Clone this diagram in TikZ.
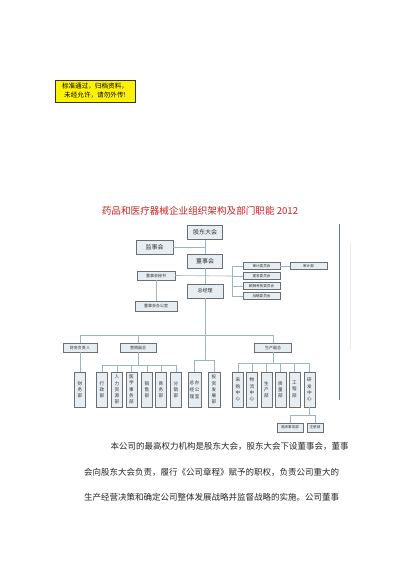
\documentclass[tikz,border=0pt]{standalone}
\usepackage{fontspec}
\newfontfamily\cjk{Noto Sans CJK SC}
\definecolor{boxfill}{HTML}{E8EDF1}
\definecolor{boxline}{HTML}{6A6F74}
\definecolor{conn}{HTML}{9DB4C4}
\definecolor{titlered}{HTML}{D02020}
\definecolor{frameline}{HTML}{5E7C8C}
\tikzset{
  orgbox/.style={draw=boxline, fill=boxfill, line width=0.5pt, inner sep=0pt, align=center, text=black!80},
  bigbox/.style={orgbox, minimum width=35pt, minimum height=14pt, font=\cjk\fontsize{6}{7}\selectfont},
  smallbox/.style={orgbox, minimum width=37pt, minimum height=7pt, font=\cjk\fontsize{3.6}{4}\selectfont},
  midbox/.style={orgbox, minimum width=36pt, minimum height=9pt, font=\cjk\fontsize{4}{5}\selectfont},
  vbox/.style={orgbox, minimum width=11pt, minimum height=35pt, font=\cjk\fontsize{4.6}{6.2}\selectfont},
  link/.style={draw=conn, line width=0.6pt},
  bodytext/.style={anchor=west, inner sep=0pt, font=\cjk\fontsize{8.5}{10}\selectfont, text=black!85}
}
\begin{document}
\begin{tikzpicture}[x=1pt,y=-1pt]
\useasboundingbox (0,0) rectangle (400,566);
\fill[white] (0,0) rectangle (400,566);
% yellow notice
\node[draw=black!80, fill=yellow, line width=0.5pt, minimum width=80pt, minimum height=22pt, inner sep=0pt, align=center, font=\cjk\fontsize{6.6}{9}\selectfont] (note) at (95,91) {标准通过，归档资料，\\未经允许，请勿外传!};
% title
\node[text=titlered, font=\cjk\fontsize{9.6}{11}\selectfont, inner sep=0pt] (title) at (200,211) {药品和医疗器械企业组织架构及部门职能 2012};
% top levels
\node[bigbox] (gd) at (205,232.5) {股东大会};
\node[bigbox, minimum width=37pt] (js) at (154.5,247) {监事会};
\node[bigbox] (dsh) at (205,261) {董事会};
\node[midbox, minimum width=38pt] (ms) at (156,275.5) {董事会秘书};
\node[midbox, minimum width=42pt, minimum height=10pt] (bgs) at (156,306) {董事会办公室};
\node[bigbox, minimum width=36pt, font=\cjk\fontsize{5}{6}\selectfont] (zjl) at (205,291) {总经理};
% committees
\node[smallbox] (c1) at (261.5,266) {审计委员会};
\node[smallbox] (c2) at (261.5,276) {提名委员会};
\node[smallbox] (c3) at (261.5,286) {薪酬考核委员会};
\node[smallbox] (c4) at (261.5,296) {战略委员会};
\node[smallbox] (sj) at (308.5,266) {审计部};
% vice presidents
\node[midbox, minimum width=34pt] (vp1) at (80,347.5) {财务负责人};
\node[midbox] (vp2) at (138,347.5) {营销副总};
\node[midbox, minimum width=37pt] (vp3) at (273,347.5) {生产副总};
% departments
\node[vbox] (cw) at (80,389.5) {财\\务\\部};
\node[vbox] (d1) at (102,389.5) {行\\政\\部};
\node[vbox] (d2) at (117,389.5) {人\\力\\资\\源\\部};
\node[vbox] (d3) at (131.5,389.5) {医\\学\\事\\务\\部};
\node[vbox] (d4) at (147,389.5) {销\\售\\部};
\node[vbox] (d5) at (161,389.5) {商\\务\\部};
\node[vbox] (d6) at (176,389.5) {分\\销\\部};
\node[vbox, minimum width=13pt] (g1) at (194.5,389.5) {\shortstack{总\\经\\理}\hspace{0.6pt}\shortstack{办\\公\\室}};
\node[vbox, minimum width=12pt] (g2) at (214,389.5) {投\\资\\发\\展\\部};
\node[vbox] (p1) at (238,389.5) {采\\购\\中\\心};
\node[vbox] (p2) at (252,389.5) {物\\流\\中\\心};
\node[vbox] (p3) at (266.5,389.5) {生\\产\\部};
\node[vbox] (p4) at (280.5,389.5) {质\\量\\部};
\node[vbox] (p5) at (294.5,389.5) {工\\程\\部};
\node[vbox] (p6) at (309.5,389.5) {研\\发\\中\\心};
\node[midbox, minimum width=26pt, font=\cjk\fontsize{3.6}{4}\selectfont] (s1) at (290,427.5) {临床事务部};
\node[midbox, minimum width=16pt, font=\cjk\fontsize{3.6}{4}\selectfont] (s2) at (315,427.5) {注册部};
% coordinates
\coordinate (brk) at (232,276);
\coordinate (busL) at (80,335);
\coordinate (busR) at (273,335);
\coordinate (gtop) at (205,360);
% connectors: trunk
\draw[link] (gd.south) -- (dsh.north);
\draw[link] (dsh.south) -- (zjl.north);
\draw[link] (zjl.south) -- (gtop);
\draw[link] (js.east) -- (js.east -| gd.south);
\draw[link] (ms.east) -- (brk);
\draw[link] (ms.south) -- (bgs.north);
\draw[link] (c1.west -| brk) -- (c4.west -| brk);
\foreach \c in {c1,c2,c3,c4} \draw[link] (\c.west -| brk) -- (\c.west);
\draw[link] (c1.east) -- (sj.west);
% bus
\draw[link] (busL) -- (busR);
\foreach \v in {vp1,vp2,vp3} \draw[link] (\v.north |- busL) -- (\v.north);
\draw[link] (vp1.south) -- (cw.north);
% marketing group
\draw[link] (vp2.south) -- (vp2.south |- 0,365);
\draw[link] (d1.north |- 0,365) -- (d6.north |- 0,365);
\foreach \d in {d1,d2,d3,d4,d5,d6} \draw[link] (\d.north |- 0,365) -- (\d.north);
% gm office group
\draw[link] (g1.north |- gtop) -- (g2.north |- gtop);
\foreach \d in {g1,g2} \draw[link] (\d.north |- gtop) -- (\d.north);
% production group
\draw[link] (vp3.south) -- (vp3.south |- 0,363);
\draw[link] (p1.north |- 0,363) -- (p6.north |- 0,363);
\foreach \d in {p1,p2,p3,p4,p5,p6} \draw[link] (\d.north |- 0,363) -- (\d.north);
% R&D sub
\draw[link] (p6.south) -- (p6.south |- 0,415);
\draw[link] (s1.north |- 0,415) -- (s2.north |- 0,415);
\foreach \d in {s1,s2} \draw[link] (\d.north |- 0,415) -- (\d.north);
% page frame lines
\draw[frameline, line width=0.9pt] (339,224) -- (339,400);
\draw[black!8, line width=0.5pt] (350,243) -- (350,350);
% body text
\node[bodytext] (t1) at (110.5,446) {本公司的最高权力机构是股东大会，股东大会下设董事会，董事};
\node[bodytext] (t2) at (84,472) {会向股东大会负责，履行《公司章程》赋予的职权，负责公司重大的};
\node[bodytext] (t3) at (84,497) {生产经营决策和确定公司整体发展战略并监督战略的实施。公司董事};
\end{tikzpicture}
\end{document}
